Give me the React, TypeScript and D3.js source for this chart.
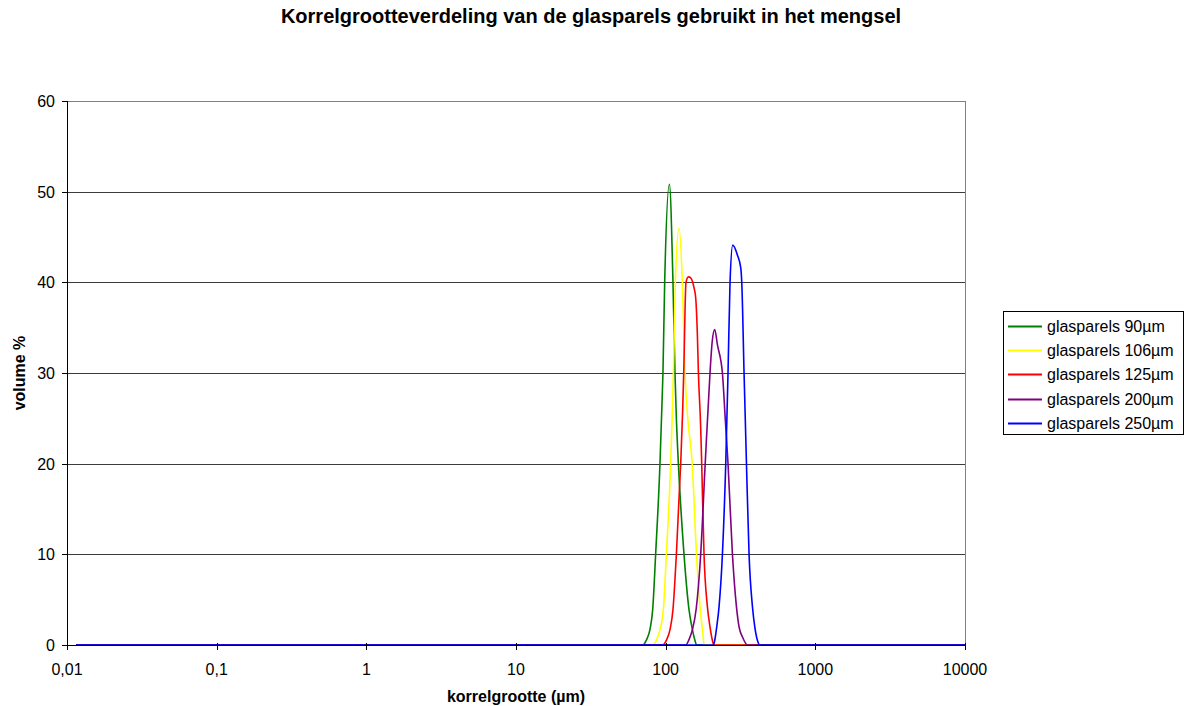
import React from "react";
import * as d3 from "d3";

// Particle size distribution of glass beads (laser diffraction), volume % per size class
const sizes90 = [0.0115, 69.9, 74.6, 78.5, 81.9, 85.7, 91.6, 94.0, 95.9, 98.5, 105.9, 111.9, 115.4, 117.9, 121.6, 132.6, 143.2, 150.9, 156.3, 161.2, 10000];
const vol90 = [0, 0, 0.6, 1.7, 3.9, 10, 20, 25.5, 30, 40, 50.8, 40, 30, 25, 20, 10, 3.9, 1.7, 0.6, 0, 0];

const sizes106 = [0.0115, 81.5, 87.1, 91.6, 96.5, 101.1, 108.0, 110.9, 112.6, 116.1, 122.7, 129.3, 134.6, 140.5, 150.4, 160.7, 170.1, 176.0, 181.0, 10000];
const vol106 = [0, 0, 0.6, 1.7, 3.9, 10, 20, 25.9, 30, 40, 46.0, 40, 30, 25, 20, 10, 4.0, 1.7, 0, 0];

const sizes125 = [0.0115, 95.0, 101.6, 106.9, 111.9, 117.9, 126.0, 129.9, 132.0, 136.7, 141.8, 147.0, 154.7, 158.7, 162.9, 165.5, 171.4, 174.1, 180.4, 190.1, 197.8, 205.3, 210.4, 10000];
const vol125 = [0, 0, 0.6, 1.7, 3.9, 10, 20, 25.9, 30, 40, 40.6, 40.5, 39.4, 38.3, 34.2, 30, 24, 20, 10, 4.2, 2.0, 0.5, 0, 0];

const sizes200 = [0.0115, 136.1, 143.2, 150.9, 160.0, 171.4, 183.7, 197.8, 204.7, 212.7, 221.8, 239.4, 250.0, 261.0, 279.3, 297.2, 309.3, 325.8, 352.0, 10000];
const vol200 = [0, 0, 0.6, 1.7, 4.0, 10, 20, 30, 33.5, 34.8, 33.1, 30, 25, 20, 10, 4.2, 2.0, 0.9, 0, 0];

const sizes250 = [0.0115, 208.5, 212.7, 219.4, 227.3, 239.4, 252.0, 261.0, 269.2, 280.6, 301.8, 317.5, 322.4, 334.0, 346.6, 360.7, 380.2, 393.9, 410.6, 425.4, 10000];
const vol250 = [0, 0, 0.5, 2.0, 4.2, 10, 20, 30, 40, 44.1, 43.0, 41.6, 40, 30, 20, 10, 4.2, 2.0, 0.5, 0, 0];

const seriesNames = ["glasparels 90µm", "glasparels 106µm", "glasparels 125µm", "glasparels 200µm", "glasparels 250µm"];
const seriesColors = ["#008000", "#FFFF00", "#FF0000", "#800080", "#0000FF"];
const seriesSizes = [sizes90, sizes106, sizes125, sizes200, sizes250];
const seriesVolumes = [vol90, vol106, vol125, vol200, vol250];

const xTicks = [0.01, 0.1, 1, 10, 100, 1000, 10000];
const xTickLabels = ["0,01", "0,1", "1", "10", "100", "1000", "10000"];
const yTicks = [0, 10, 20, 30, 40, 50, 60];

const titleText = "Korrelgrootteverdeling van de glasparels gebruikt in het mengsel";
const xTitle = "korrelgrootte (µm)";
const yTitle = "volume %";

const W = 1185;
const H = 706;
const plot = { left: 67, right: 965, top: 101, bottom: 645 };
const font = "Arial, 'Liberation Sans', sans-serif";

export default function App() {
  const x = d3.scaleLog().domain([0.01, 10000]).range([plot.left, plot.right]);
  const y = d3.scaleLinear().domain([0, 60]).range([plot.bottom, plot.top]);

  const line = d3
    .line<[number, number]>()
    .x((d) => x(d[0]))
    .y((d) => y(d[1]))
    .curve(d3.curveMonotoneX);

  const legend = { x: 1003, y: 311, w: 180, h: 123, row: 24.2 };

  return (
    <svg
      width={W}
      height={H}
      style={{ position: "absolute", left: 0, top: 0, background: "#fff" }}
      fontFamily={font}
    >
      <text x={591} y={23} textAnchor="middle" fontSize={20} fontWeight="bold" fill="#000">
        {titleText}
      </text>

      {/* gridlines */}
      {yTicks.map((t) => (
        <line
          key={"g" + t}
          x1={plot.left}
          x2={plot.right}
          y1={Math.round(y(t)) + 0.5}
          y2={Math.round(y(t)) + 0.5}
          stroke={t === 60 ? "#808080" : "#3c3c3c"}
          strokeWidth={1}
        />
      ))}
      {/* plot area right border */}
      <line x1={plot.right + 0.5} x2={plot.right + 0.5} y1={plot.top} y2={plot.bottom} stroke="#808080" />

      {/* series */}
      {seriesSizes.map((sz, i) => {
        const pts = sz.map((s, j) => [s, seriesVolumes[i][j]] as [number, number]);
        return (
          <path
            key={seriesNames[i]}
            d={line(pts) || ""}
            fill="none"
            stroke={seriesColors[i]}
            strokeWidth={1.6}
            strokeLinejoin="round"
          />
        );
      })}

      {/* y axis */}
      <line x1={plot.left + 0.5} x2={plot.left + 0.5} y1={plot.top} y2={plot.bottom + 1} stroke="#000" />
      {yTicks.map((t) => (
        <g key={"y" + t}>
          <line
            x1={plot.left - 5}
            x2={plot.left}
            y1={Math.round(y(t)) + 0.5}
            y2={Math.round(y(t)) + 0.5}
            stroke="#000"
          />
          <text x={55} y={y(t) + 6} textAnchor="end" fontSize={16} fill="#000">
            {t}
          </text>
        </g>
      ))}

      {/* x axis */}
      <line x1={plot.left} x2={plot.right} y1={plot.bottom + 0.5} y2={plot.bottom + 0.5} stroke="#000" />
      {xTicks.map((t, i) => (
        <g key={"x" + t}>
          <line
            x1={Math.round(x(t)) + 0.5}
            x2={Math.round(x(t)) + 0.5}
            y1={plot.bottom - 2}
            y2={plot.bottom + 5}
            stroke="#000"
          />
          <text x={x(t)} y={675} textAnchor="middle" fontSize={16} fill="#000">
            {xTickLabels[i]}
          </text>
        </g>
      ))}

      <text x={516} y={702} textAnchor="middle" fontSize={16} fontWeight="bold" fill="#000">
        {xTitle}
      </text>
      <text
        transform={`translate(25, 373) rotate(-90)`}
        textAnchor="middle"
        fontSize={16}
        fontWeight="bold"
        fill="#000"
      >
        {yTitle}
      </text>

      {/* legend */}
      <rect
        x={legend.x + 0.5}
        y={legend.y + 0.5}
        width={legend.w}
        height={legend.h}
        fill="#fff"
        stroke="#000"
      />
      {seriesNames.map((n, i) => {
        const cy = Math.round(legend.y + 15 + i * legend.row);
        return (
          <g key={"l" + n}>
            <line x1={legend.x + 5} x2={legend.x + 39} y1={cy + 0.5} y2={cy + 0.5} stroke={seriesColors[i]} strokeWidth={2} />
            <text x={legend.x + 44} y={cy + 6} fontSize={16} fill="#000">
              {n}
            </text>
          </g>
        );
      })}
    </svg>
  );
}
